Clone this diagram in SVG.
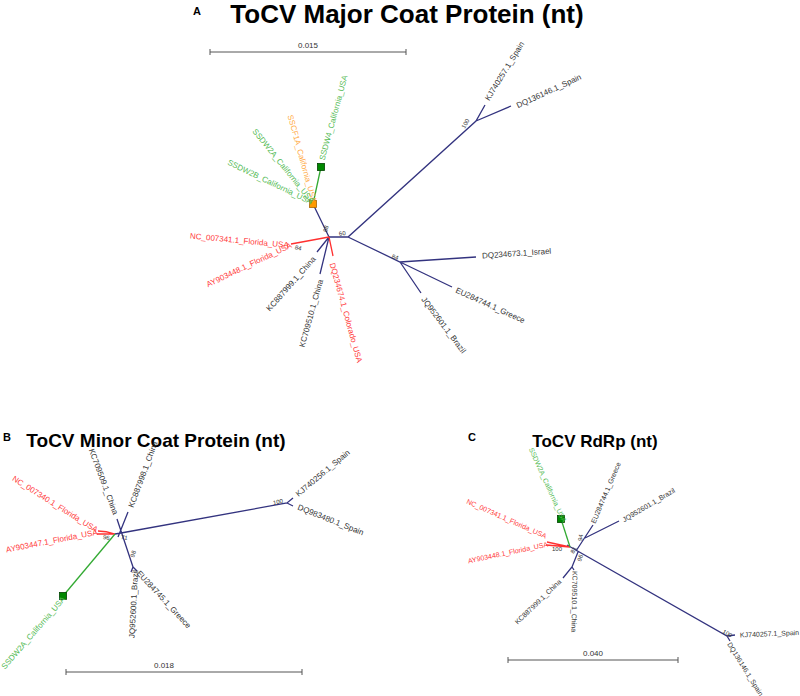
<svg xmlns="http://www.w3.org/2000/svg" width="800" height="696" viewBox="0 0 800 696">
<style>
text{font-family:"Liberation Sans",Arial,sans-serif}
.title{font-weight:bold;fill:#000;text-anchor:middle}
.pl{font-weight:bold;fill:#000;font-size:11px}
.t8{font-size:8px;dominant-baseline:central}
.t7{font-size:7px;dominant-baseline:central}
.bs{font-size:6px;fill:#333;dominant-baseline:central}
.k{fill:#333}
.r{fill:#ff3b3b}
.g{fill:#55bb55}
.o{fill:#ffaa44}
.bl{stroke:#33337f;stroke-width:1.3;fill:none}
.rl{stroke:#ff3030;stroke-width:1.3;fill:none}
.gl{stroke:#33aa33;stroke-width:1.3;fill:none}
.sb{stroke:#555;stroke-width:1;fill:none}
.sbt{font-size:8px;fill:#333;text-anchor:middle}
</style>

<!-- Panel A -->
<g id="panelA-header">
<text class="pl" x="193" y="15">A</text>
<text class="title" x="407" y="23" font-size="26">ToCV Major Coat Protein (nt)</text>
</g>
<g id="scaleA">
<path class="sb" d="M210,52H406M210,49V55M406,49V55"/>
<text class="sbt" x="308" y="48">0.015</text>
</g>
<g id="connectorsA">
<path class="bl" d="M329,237H348L476,121L485,105M476,121L511,106M348,237L400,262L476,257M400,262L452,287M400,262L421,293M329,237L317,252M329,237L320,274M329,237L313,204"/>
<path class="rl" d="M329,237L291,244M329,237L333,256"/>
<path class="gl" d="M313,204L321,167"/>
</g>
<g id="nodesA">
<rect x="309.5" y="200.5" width="7" height="7" fill="#ff9900" stroke="#aa6600" stroke-width="0.8"/>
<rect x="317.5" y="163.5" width="7" height="7" fill="#008800" stroke="#004400" stroke-width="0.8"/>
<g id="SSDW4"><text class="t8 g" transform="translate(322,160) rotate(-74.6)">SSDW4_California_USA</text></g>
<g id="SSCF1A"><text class="t8 o" transform="translate(290,115) rotate(74.6)">SSCF1A_California_USA</text></g>
<g id="SSDW2A-A"><text class="t8 g" transform="translate(254,130) rotate(51)">SSDW2A_California_USA</text></g>
<g id="SSDW2B"><text class="t8 g" transform="translate(228,162) rotate(25.7)">SSDW2B_California_USA</text></g>
<g id="NC007341-A"><text class="t8 r" transform="translate(190,236) rotate(5.4)">NC_007341.1_Florida_USA</text></g>
<g id="AY903448-A"><text class="t8 r" transform="translate(207,285) rotate(-25.4)">AY903448.1_Florida_USA</text></g>
<g id="KC887999-A"><text class="t8 k" transform="translate(268,310) rotate(-48.4)">KC887999.1_China</text></g>
<g id="KC709510-A"><text class="t8 k" transform="translate(302,347) rotate(-74.5)">KC709510.1_China</text></g>
<g id="DQ234674"><text class="t8 r" transform="translate(332,263) rotate(74.5)">DQ234674.1_Colorado_USA</text></g>
<g id="KJ740257-A"><text class="t8 k" transform="translate(487,100) rotate(-58.4)">KJ740257.1_Spain</text></g>
<g id="DQ136146-A"><text class="t8 k" transform="translate(517,106) rotate(-24.7)">DQ136146.1_Spain</text></g>
<g id="DQ234673"><text class="t8 k" transform="translate(482,256) rotate(-4)">DQ234673.1_Israel</text></g>
<g id="EU284744-A"><text class="t8 k" transform="translate(456,290) rotate(24.4)">EU284744.1_Greece</text></g>
<g id="JQ952601-A"><text class="t8 k" transform="translate(423,298) rotate(53)">JQ952601.1_Brazil</text></g>
<text class="bs" transform="translate(325,232) rotate(-75)">88</text>
<text class="bs" transform="translate(339,234) rotate(-10)">60</text>
<text class="bs" transform="translate(295,247) rotate(15)">84</text>
<text class="bs" transform="translate(463,128) rotate(-60)">100</text>
<text class="bs" transform="translate(392,256) rotate(20)">84</text>
</g>

<!-- Panel B -->
<g id="panelB-header">
<text class="pl" x="3" y="441">B</text>
<text class="title" x="156" y="447" font-size="19">ToCV Minor Coat Protein (nt)</text>
</g>
<g id="scaleB">
<path class="sb" d="M66,672H302M66,669V675M302,669V675"/>
<text class="sbt" x="164" y="668">0.018</text>
</g>
<g id="connectorsB">
<path class="bl" d="M117,519L133,567L131,572M133,567L137,571M128,512L118,537M121,533L287,503L293,498M287,503L293,506M121,533L115,534"/>
<path class="rl" d="M115,534Q106,531 98,531M115,534L97,534"/>
<path class="gl" d="M115,534L63,596"/>
</g>
<g id="nodesB">
<rect x="59.5" y="592.5" width="7" height="7" fill="#008800" stroke="#004400" stroke-width="0.8"/>
<g id="NC007340"><text class="t8 r" transform="translate(13,478) rotate(32)">NC_007340.1_Florida_USA</text></g>
<g id="AY903447"><text class="t8 r" transform="translate(6,550) rotate(-11)">AY903447.1_Florida_USA</text></g>
<g id="KC709509"><text class="t8 k" transform="translate(91,449) rotate(69.4)">KC709509.1_China</text></g>
<g id="KC887998"><text class="t8 k" transform="translate(131,507) rotate(-69.4)">KC887998.1_China</text></g>
<g id="KJ740256"><text class="t8 k" transform="translate(297,495) rotate(-40)">KJ740256.1_Spain</text></g>
<g id="DQ983480"><text class="t8 k" transform="translate(298,507) rotate(21.8)">DQ983480.1_Spain</text></g>
<g id="EU284745"><text class="t8 k" transform="translate(138,572) rotate(47)">EU284745.1_Greece</text></g>
<g id="JQ952600"><text class="t8 k" transform="translate(132,638) rotate(-87)">JQ952600.1_Brazil</text></g>
<g id="SSDW2A-B"><text class="t8 g" transform="translate(3,668) rotate(-49)">SSDW2A_California_USA</text></g>
<text class="bs" transform="translate(103,537) rotate(10)">96</text>
<text class="bs" transform="translate(121,537) rotate(10)">71</text>
<text class="bs" transform="translate(132,557) rotate(-70)">98</text>
<text class="bs" transform="translate(273,503) rotate(-12)">100</text>
</g>

<!-- Panel C -->
<g id="panelC-header">
<text class="pl" x="468" y="441">C</text>
<text class="title" x="595" y="447" font-size="17">ToCV RdRp (nt)</text>
</g>
<g id="scaleC">
<path class="sb" d="M508,660H678M508,657V663M678,657V663"/>
<text class="sbt" x="593" y="656">0.040</text>
</g>
<g id="connectorsC">
<path class="bl" d="M567,545L727,636L735,635M727,636L730,641M576,551L593,525M585,538L619,521M578,552L572,567L563,578M572,567L574,570"/>
<path class="rl" d="M547,542L570,547M546,545L570,547"/>
<path class="gl" d="M561,519L570,547"/>
</g>
<g id="nodesC">
<rect x="557.5" y="515.5" width="7" height="7" fill="#008800" stroke="#004400" stroke-width="0.8"/>
<g id="SSDW2A-C"><text class="t7 g" transform="translate(531,448) rotate(65.6)">SSDW2A_California_USA</text></g>
<g id="NC007341-C"><text class="t7 r" transform="translate(467,501) rotate(24)">NC_007341.1_Florida_USA</text></g>
<g id="AY903448-C"><text class="t7 r" transform="translate(468,561) rotate(-12)">AY903448.1_Florida_USA</text></g>
<g id="EU284744-C"><text class="t7 k" transform="translate(593,523) rotate(-67)">EU284744.1_Greece</text></g>
<g id="JQ952601-C"><text class="t7 k" transform="translate(623,520) rotate(-30.5)">JQ952601.1_Brazil</text></g>
<g id="KC887999-C"><text class="t7 k" transform="translate(516,623) rotate(-44)">KC887999.1_China</text></g>
<g id="KC709510-C"><text class="t7 k" transform="translate(575,571) rotate(91)">KC709510.1_China</text></g>
<g id="KJ740257-C"><text class="t7 k" transform="translate(740,635) rotate(-2.5)">KJ740257.1_Spain</text></g>
<g id="DQ136146-C"><text class="t7 k" transform="translate(729,643) rotate(58)">DQ136146.1_Spain</text></g>
<text class="bs" transform="translate(552,549)">100</text>
<text class="bs" transform="translate(580,541) rotate(-80)">94</text>
<text class="bs" transform="translate(572,553) rotate(-60)">81</text>
<text class="bs" transform="translate(579,561) rotate(-70)">96</text>
<text class="bs" transform="translate(723,631) rotate(30)">100</text>
</g>
</svg>
